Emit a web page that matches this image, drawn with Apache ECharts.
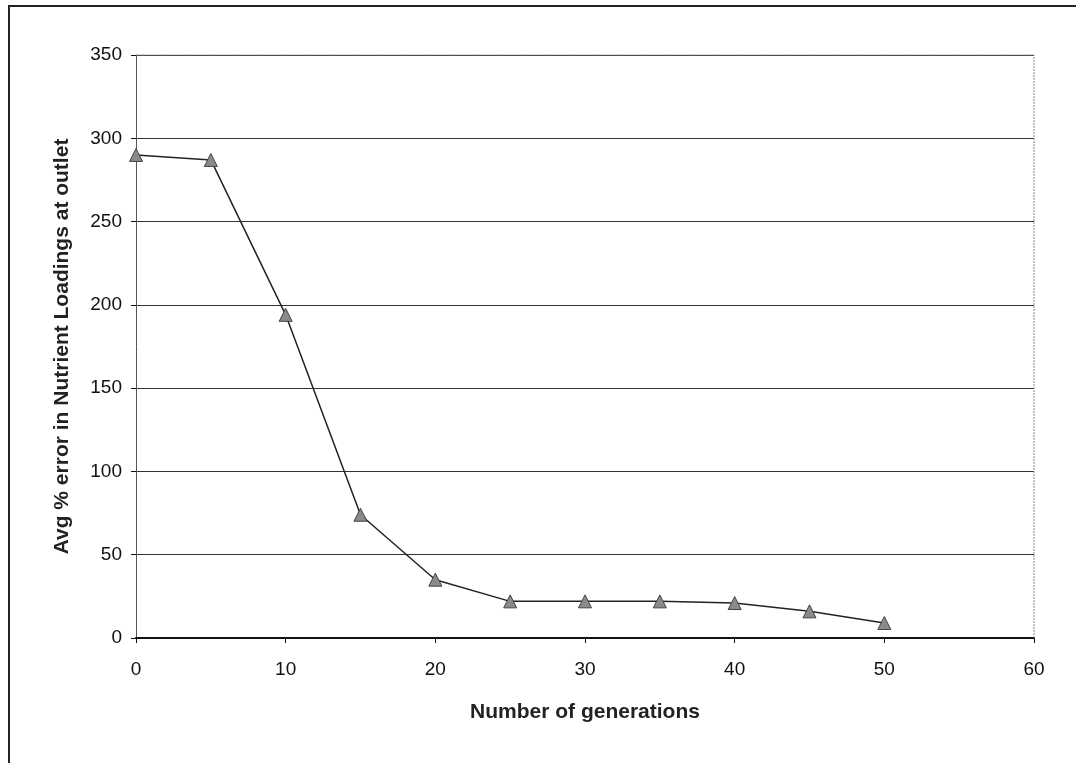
<!DOCTYPE html>
<html><head><meta charset="utf-8">
<script src="https://cdn.jsdelivr.net/npm/echarts@6/dist/echarts.min.js"></script>
<style>html,body{margin:0;padding:0;background:#fff}#c{width:1076px;height:763px}</style>
</head><body><div id="c"></div>
<script>
const generations = [0, 5, 10, 15, 20, 25, 30, 35, 40, 45, 50];
const avgError = [290, 287, 194, 74, 35, 22, 22, 22, 21, 16, 9];
const xTitle = 'Number of generations';
const yTitle = 'Avg % error in Nutrient Loadings at outlet';

const chart = echarts.init(document.getElementById('c'));
const font = 'Liberation Sans, Arial, sans-serif';
chart.setOption({
  animation: false,
  backgroundColor: '#fff',
  graphic: [
    {type: 'rect', shape: {x: 9, y: 6, width: 1200, height: 900}, style: {fill: 'none', stroke: '#222', lineWidth: 2}, z: 0},
    {type: 'polyline', shape: {points: [[136, 55], [1034, 55], [1034, 638]]}, style: {fill: 'none', stroke: '#888', lineWidth: 1, lineDash: [2, 1]}, z: 1}
  ],
  grid: {left: 136, top: 55, width: 898, height: 583, show: false},
  xAxis: {
    type: 'value', min: 0, max: 60, interval: 10,
    name: xTitle, nameLocation: 'middle', nameGap: 64,
    nameTextStyle: {fontFamily: font, fontSize: 21, fontWeight: 'bold', color: '#222'},
    axisLine: {lineStyle: {color: '#111', width: 2}},
    axisTick: {show: true, inside: false, length: 5, lineStyle: {color: '#111'}},
    axisLabel: {fontFamily: font, fontSize: 19, color: '#111', margin: 22},
    splitLine: {show: false}
  },
  yAxis: {
    type: 'value', min: 0, max: 350, interval: 50,
    name: yTitle, nameLocation: 'middle', nameGap: 63, nameRotate: 90,
    nameTextStyle: {fontFamily: font, fontSize: 21, fontWeight: 'bold', color: '#222'},
    axisLine: {show: true, lineStyle: {color: '#555', width: 1}},
    axisTick: {show: true, length: 5, lineStyle: {color: '#111'}},
    axisLabel: {fontFamily: font, fontSize: 19, color: '#111', margin: 14},
    splitLine: {show: true, lineStyle: {color: '#333', width: 1}}
  },
  series: [{
    type: 'line',
    data: generations.map((g, i) => [g, avgError[i]]),
    symbol: 'triangle', symbolSize: 13,
    itemStyle: {color: '#8a8a8a', borderColor: '#444', borderWidth: 1},
    lineStyle: {color: '#222', width: 1.5},
    z: 3
  }]
});
</script></body></html>
